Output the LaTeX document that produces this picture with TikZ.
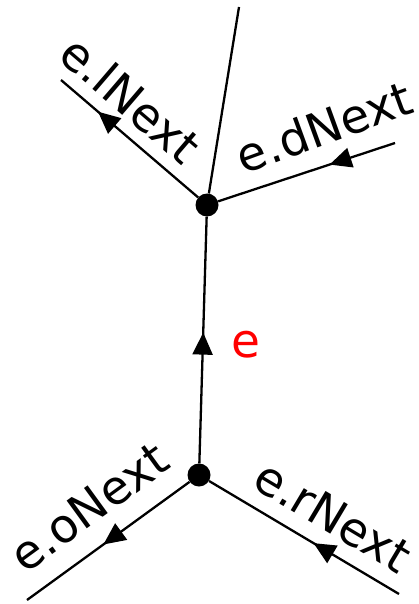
\documentclass[tikz,border=0pt]{standalone}
\usepackage{fontspec}
\setmainfont{DejaVu Sans}
\usetikzlibrary{arrows.meta, decorations.markings}
\tikzset{
  vertex/.style={circle, fill=black, inner sep=0pt, minimum size=23pt},
  edgeline/.style={line width=2.3pt},
  midarrow/.style={postaction={decorate, decoration={markings,
      mark=at position #1 with {\arrow{Triangle[length=22pt, width=20pt]}}}}},
  lbl/.style={font=\fontsize{47}{54}\selectfont, inner sep=0pt}
}

\begin{document}
\begin{tikzpicture}[x=1pt, y=-1pt]
  \useasboundingbox (0,0) rectangle (419,604);
  \node[vertex] (dest) at (207,205) {};
  \node[vertex] (orig) at (199,475) {};
  \coordinate (top) at (239,7);
  \coordinate (lend) at (61,80);
  \coordinate (dend) at (395,143);
  \coordinate (oend) at (27,600);
  \coordinate (rend) at (399,594);

  \draw[edgeline] (dest) -- (top);
  \draw[edgeline, midarrow=0.53] (orig) -- (dest);
  \draw[edgeline, midarrow=0.73] (dest) -- (lend);
  \draw[edgeline, midarrow=0.37] (dend) -- (dest);
  \draw[edgeline, midarrow=0.53] (orig) -- (oend);
  \draw[edgeline, midarrow=0.45] (rend) -- (orig);

  \node[lbl, rotate=-40.6] (lnext) at (131,99) {e.lNext};
  \node[lbl, rotate=20] (dnext) at (324,127) {e.dNext};
  \node[lbl, rotate=36] (onext) at (89,507) {e.oNext};
  \node[lbl, rotate=-30.8] (rnext) at (333,516) {e.rNext};
  \node[lbl, red] (elbl) at (246,345) {e};
\end{tikzpicture}
\end{document}
